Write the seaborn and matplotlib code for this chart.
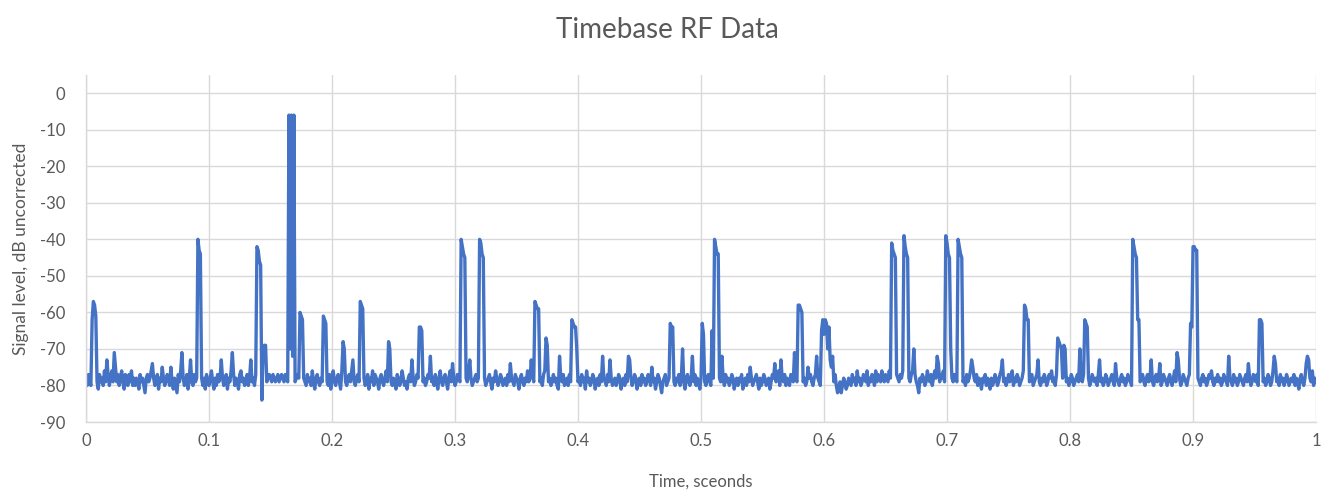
import numpy as np
import pandas as pd
import matplotlib
matplotlib.use("Agg")
import matplotlib.pyplot as plt
import seaborn as sns

# ---- data (signal level in dB, one sample per millisecond) ----
sample_interval = 0.001

level_000_099 = [
    -78, -80, -77, -79, -80, -62, -57, -58, -61, -79,
    -81, -77, -79, -78, -80, -76, -79, -73, -77, -80,
    -78, -76, -79, -71, -75, -79, -77, -80, -78, -76,
    -79, -81, -77, -78, -80, -77, -79, -76, -80, -78,
    -80, -78, -79, -81, -77, -79, -78, -80, -82, -78,
    -77, -79, -78, -76, -74, -78, -80, -79, -77, -81,
    -78, -79, -75, -78, -80, -79, -77, -78, -80, -75,
    -79, -81, -78, -80, -82, -77, -79, -76, -71, -78,
    -80, -79, -77, -81, -78, -73, -79, -80, -77, -79,
    -78, -40, -43, -44, -78, -80, -78, -81, -77, -79,
]
level_100_199 = [
    -80, -78, -76, -79, -81, -78, -80, -77, -79, -78,
    -73, -78, -80, -79, -77, -81, -78, -79, -76, -71,
    -77, -80, -78, -79, -81, -77, -76, -79, -78, -80,
    -79, -77, -80, -78, -73, -79, -78, -80, -77, -42,
    -43, -46, -47, -84, -70, -69, -69, -79, -78, -77,
    -78, -79, -77, -78, -79, -78, -77, -79, -78, -77,
    -78, -79, -77, -78, -79, -6, -70, -6, -72, -6,
    -79, -78, -77, -78, -60, -61, -62, -78, -79, -80,
    -77, -79, -78, -80, -76, -79, -81, -78, -77, -79,
    -80, -78, -79, -61, -62, -63, -79, -80, -77, -81,
]
level_200_299 = [
    -78, -76, -79, -80, -78, -77, -79, -81, -76, -68,
    -70, -79, -80, -78, -77, -79, -76, -73, -79, -80,
    -78, -77, -79, -57, -58, -59, -78, -80, -79, -77,
    -81, -78, -79, -76, -80, -77, -78, -79, -81, -78,
    -77, -79, -80, -78, -76, -79, -68, -70, -79, -80,
    -78, -79, -81, -77, -78, -80, -79, -76, -78, -80,
    -79, -81, -78, -77, -79, -73, -78, -80, -79, -77,
    -78, -64, -64, -65, -79, -78, -80, -79, -77, -78,
    -72, -79, -78, -80, -77, -79, -81, -78, -76, -79,
    -80, -78, -77, -79, -81, -78, -76, -79, -74, -78,
]
level_300_399 = [
    -80, -79, -77, -78, -79, -40, -42, -44, -45, -78,
    -79, -77, -73, -78, -80, -79, -78, -77, -79, -78,
    -40, -41, -44, -45, -78, -80, -79, -78, -77, -79,
    -81, -78, -79, -76, -78, -80, -79, -77, -78, -80,
    -79, -78, -80, -77, -79, -74, -78, -79, -80, -77,
    -78, -79, -81, -78, -77, -79, -80, -78, -79, -76,
    -79, -78, -73, -77, -79, -57, -58, -59, -59, -79,
    -78, -80, -77, -76, -67, -69, -79, -78, -80, -79,
    -77, -79, -78, -80, -81, -72, -78, -79, -77, -80,
    -79, -78, -80, -77, -79, -62, -63, -64, -64, -70,
]
level_400_499 = [
    -79, -78, -80, -77, -79, -78, -81, -76, -79, -78,
    -80, -79, -77, -78, -81, -79, -78, -80, -77, -79,
    -72, -78, -79, -80, -77, -79, -73, -78, -80, -79,
    -78, -80, -79, -77, -78, -81, -79, -78, -80, -77,
    -79, -72, -73, -78, -80, -79, -77, -78, -81, -79,
    -78, -80, -77, -79, -78, -80, -79, -77, -78, -80,
    -75, -79, -78, -81, -79, -77, -78, -80, -82, -79,
    -78, -77, -80, -79, -78, -63, -64, -64, -79, -80,
    -78, -79, -77, -80, -78, -70, -79, -81, -78, -77,
    -79, -80, -78, -72, -79, -77, -80, -78, -79, -81,
]
level_500_599 = [
    -78, -63, -66, -79, -80, -78, -77, -79, -80, -65,
    -78, -40, -42, -44, -44, -78, -79, -72, -78, -80,
    -77, -79, -78, -80, -79, -77, -78, -81, -79, -78,
    -80, -78, -79, -77, -81, -79, -78, -80, -77, -79,
    -75, -78, -80, -79, -78, -77, -79, -81, -78, -80,
    -79, -77, -78, -80, -79, -78, -81, -79, -77, -78,
    -74, -79, -78, -76, -80, -73, -78, -79, -77, -80,
    -78, -79, -80, -77, -78, -79, -71, -78, -79, -58,
    -58, -59, -60, -79, -78, -80, -79, -75, -78, -77,
    -79, -80, -78, -77, -72, -78, -79, -80, -65, -62,
]
level_600_699 = [
    -66, -62, -63, -70, -64, -73, -75, -72, -79, -77,
    -80, -82, -81, -79, -82, -80, -78, -79, -81, -80,
    -78, -79, -80, -77, -79, -78, -80, -76, -79, -78,
    -80, -79, -77, -78, -79, -76, -80, -78, -79, -77,
    -78, -80, -76, -79, -77, -78, -79, -76, -78, -79,
    -77, -78, -79, -76, -78, -41, -43, -44, -45, -77,
    -78, -79, -77, -78, -76, -39, -42, -44, -45, -78,
    -79, -77, -76, -70, -77, -79, -80, -82, -78, -79,
    -77, -78, -80, -79, -76, -78, -79, -77, -80, -78,
    -76, -78, -72, -74, -79, -77, -78, -76, -79, -39,
]
level_700_799 = [
    -41, -44, -45, -70, -78, -79, -77, -78, -79, -40,
    -42, -44, -45, -79, -78, -80, -77, -79, -78, -76,
    -73, -75, -78, -79, -77, -80, -78, -79, -81, -78,
    -79, -77, -80, -78, -79, -81, -78, -80, -79, -77,
    -78, -80, -79, -77, -76, -73, -79, -78, -80, -79,
    -77, -79, -78, -76, -80, -78, -79, -77, -78, -80,
    -79, -78, -76, -58, -59, -62, -62, -79, -78, -77,
    -80, -79, -78, -77, -73, -79, -80, -78, -79, -77,
    -78, -80, -79, -77, -78, -76, -79, -78, -80, -77,
    -67, -68, -69, -70, -78, -69, -70, -79, -78, -80,
]
level_800_899 = [
    -79, -77, -78, -80, -79, -78, -77, -79, -70, -78,
    -79, -77, -62, -63, -64, -78, -80, -79, -77, -78,
    -79, -78, -80, -77, -73, -79, -78, -80, -79, -77,
    -78, -80, -79, -78, -77, -79, -80, -74, -78, -79,
    -80, -78, -77, -79, -78, -80, -79, -77, -78, -79,
    -80, -40, -42, -44, -45, -62, -62, -79, -78, -77,
    -79, -80, -78, -77, -79, -78, -73, -79, -80, -78,
    -77, -79, -78, -74, -80, -79, -77, -78, -79, -80,
    -78, -77, -79, -80, -78, -76, -79, -71, -73, -78,
    -80, -79, -77, -78, -79, -80, -78, -77, -63, -64,
]
level_900_1000 = [
    -42, -42, -43, -43, -78, -79, -80, -78, -77, -79,
    -78, -80, -79, -77, -78, -76, -79, -80, -78, -79,
    -77, -79, -78, -80, -79, -77, -78, -79, -80, -72,
    -78, -79, -80, -77, -79, -78, -80, -79, -77, -78,
    -79, -80, -78, -77, -79, -74, -78, -80, -79, -77,
    -78, -79, -77, -80, -62, -62, -63, -79, -78, -80,
    -79, -77, -78, -80, -79, -76, -72, -74, -79, -78,
    -80, -77, -79, -78, -80, -79, -77, -78, -80, -79,
    -78, -79, -77, -80, -78, -79, -81, -78, -77, -79,
    -80, -78, -74, -72, -73, -78, -79, -76, -80, -78,
    -79,
]

x_ticks = [0, 0.1, 0.2, 0.3, 0.4, 0.5, 0.6, 0.7, 0.8, 0.9, 1]
x_tick_labels = ["0", "0.1", "0.2", "0.3", "0.4", "0.5", "0.6", "0.7", "0.8", "0.9", "1"]
y_ticks = [-90, -80, -70, -60, -50, -40, -30, -20, -10, 0]

title = "Timebase RF Data"
x_label = "Time, sceonds"
y_label = "Signal level, dB uncorrected"

# ---- build table ----
level = (level_000_099 + level_100_199 + level_200_299 + level_300_399 +
         level_400_499 + level_500_599 + level_600_699 + level_700_799 +
         level_800_899 + level_900_1000)
time = np.round(np.arange(len(level)) * sample_interval, 3)
df = pd.DataFrame({"time": time, "level": level})

# ---- style ----
sns.set_theme(style="whitegrid")
plt.rcParams["font.family"] = ["Lato", "DejaVu Sans"]
text_grey = "#595959"
grid_grey = "#d9d9d9"

fig = plt.figure(figsize=(13.35, 4.93), dpi=100)
ax = fig.add_axes([0.0644, 0.144, 0.9214, 0.704])

sns.lineplot(data=df, x="time", y="level", ax=ax, color="#4472C4",
             linewidth=2.4, estimator=None, errorbar=None)

ax.set_xlim(0, 1)
ax.set_ylim(-90, 5)
ax.set_xticks(x_ticks)
ax.set_xticklabels(x_tick_labels)
ax.set_yticks(y_ticks)
ax.set_yticklabels([str(v) for v in y_ticks])

ax.grid(True, color=grid_grey, linewidth=1.0)
for side in ["top", "right"]:
    ax.spines[side].set_visible(False)
for side in ["left", "bottom"]:
    ax.spines[side].set_color(grid_grey)
    ax.spines[side].set_linewidth(1.0)
ax.tick_params(axis="both", length=0, colors=text_grey, labelsize=12)
ax.tick_params(axis="y", pad=15)
ax.tick_params(axis="x", pad=8)

ax.set_xlabel(x_label, color=text_grey, fontsize=12, labelpad=18)
ax.set_ylabel(y_label, color=text_grey, fontsize=12.5, labelpad=8)
fig.suptitle(title, color=text_grey, fontsize=20, y=0.965)

fig.savefig("out.png", dpi=100, facecolor="white")
